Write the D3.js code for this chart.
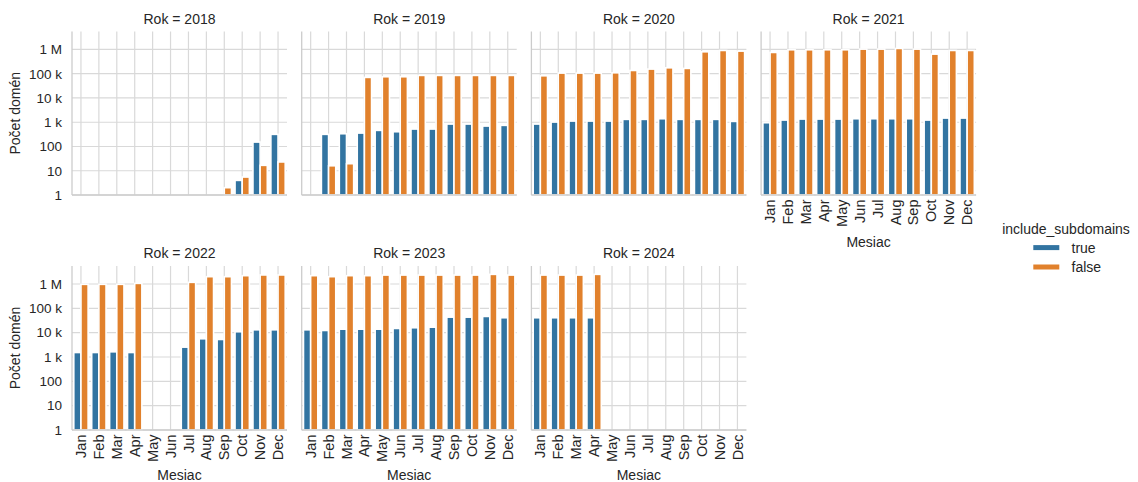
<!DOCTYPE html>
<html>
<head>
<meta charset="utf-8">
<script src="https://cdn.jsdelivr.net/npm/d3@7"></script>
<style>
  html, body { margin: 0; padding: 0; background: #fff; }
  svg { display: block; font-family: "Liberation Sans", Arial, sans-serif; }
</style>
</head>
<body>
<svg id="chart" width="1138" height="482"></svg>
<script>
// Months and years shown in the facet grid
const months = ["Jan","Feb","Mar","Apr","May","Jun","Jul","Aug","Sep","Oct","Nov","Dec"];
const years = [2018, 2019, 2020, 2021, 2022, 2023, 2024];
const seriesNames = ["true", "false"];

// Domain counts per month, include_subdomains = true (null = no data)
const trueCounts = {
  2018: [null,null,null,null,null,null,null,null,null,4,152,316],
  2019: [null,316,335,357,461,405,523,523,840,840,695,742],
  2020: [840,1015,1115,1115,1115,1310,1310,1390,1310,1310,1310,1080],
  2021: [953,1227,1349,1349,1349,1390,1390,1390,1390,1227,1483,1483],
  2022: [1528,1528,1632,1528,null,null,2540,5600,5250,10900,13100,13100],
  2023: [13100,12300,13900,13900,13900,14900,15900,16800,43400,43400,46400,41000],
  2024: [41000,41000,41000,41000,null,null,null,null,null,null,null,null]
};

// Domain counts per month, include_subdomains = false
const falseCounts = {
  2018: [null,null,null,null,null,null,null,null,2,5.5,16.7,23],
  2019: [null,16,19.5,70300,74800,74800,85000,85000,85000,85000,85000,85000],
  2020: [82000,106000,106000,106000,109000,136000,155000,175000,165000,800000,908000,853000],
  2021: [752000,968000,968000,968000,968000,1030000,1030000,1100000,1030000,641000,908000,908000],
  2022: [968000,968000,968000,1060000,null,null,1170000,2000000,2000000,2200000,2350000,2350000],
  2023: [2200000,2000000,2200000,2200000,2330000,2330000,2330000,2330000,2330000,2330000,2490000,2330000],
  2024: [2330000,2330000,2330000,2490000,null,null,null,null,null,null,null,null]
};

// Y tick values and their labels
const yTicks = [1, 10, 100, 1000, 10000, 100000, 1000000];
const yTickLabels = ["1", "10", "100", "1 k", "10 k", "100 k", "1 M"];

const colors = { "true": "#3274a1", "false": "#e1812c" };
const textColor = "#262626";
const gridColor = "#d9d9d9";
const fontFamily = "Liberation Sans, Arial, sans-serif";

const svg = d3.select("#chart");

const panelW = 215;
const colStep = 229.7;
const firstLeft = 72;
const rows = [
  { top: 31.5, bottom: 195 },
  { top: 266, bottom: 430 }
];
const ncol = 4;

const x = d3.scaleBand().domain(months).range([0, panelW]).paddingInner(0).paddingOuter(0);
const hue = d3.scaleBand().domain(seriesNames).range([0, x.bandwidth() * 0.8]);

years.forEach((year, i) => {
  const r = Math.floor(i / ncol), c = i % ncol;
  const left = firstLeft + c * colStep;
  const row = rows[r];
  const h = row.bottom - row.top;
  const y = d3.scaleLog().domain([1, Math.pow(10, 6.74)]).range([h, 0]);

  const g = svg.append("g").attr("transform", `translate(${left},${row.top})`);

  // horizontal grid
  g.append("g").selectAll("line").data(yTicks).join("line")
    .attr("x1", 0).attr("x2", panelW)
    .attr("y1", d => y(d)).attr("y2", d => y(d))
    .attr("stroke", gridColor).attr("stroke-width", 1.2);

  // vertical grid
  g.append("g").selectAll("line").data(months).join("line")
    .attr("x1", d => x(d) + x.bandwidth() / 2).attr("x2", d => x(d) + x.bandwidth() / 2)
    .attr("y1", 0).attr("y2", h)
    .attr("stroke", gridColor).attr("stroke-width", 1.2);

  // bars
  const rowsData = [];
  months.forEach((m, k) => {
    const tv = trueCounts[year][k], fv = falseCounts[year][k];
    if (tv != null) rowsData.push({ month: m, key: "true", value: tv });
    if (fv != null) rowsData.push({ month: m, key: "false", value: fv });
  });
  g.append("g").selectAll("rect").data(rowsData).join("rect")
    .attr("x", d => x(d.month) + x.bandwidth() * 0.1 + hue(d.key))
    .attr("width", hue.bandwidth())
    .attr("y", d => y(d.value))
    .attr("height", d => h - y(d.value))
    .attr("fill", d => colors[d.key])
    .attr("stroke", "#ffffff").attr("stroke-width", 1.6);

  // spines (left and bottom)
  g.append("line").attr("x1", 0).attr("x2", 0).attr("y1", 0).attr("y2", h)
    .attr("stroke", "#cccccc").attr("stroke-width", 1.3);
  g.append("line").attr("x1", 0).attr("x2", panelW).attr("y1", h).attr("y2", h)
    .attr("stroke", "#cccccc").attr("stroke-width", 1.3);

  // facet title
  g.append("text").attr("x", panelW / 2).attr("y", -8)
    .attr("text-anchor", "middle").attr("fill", textColor).attr("font-size", 14)
    .text(`Rok = ${year}`);

  // y axis labels on the first column
  if (c === 0) {
    const yAxis = d3.axisLeft(y).tickValues(yTicks)
      .tickFormat((d, j) => yTickLabels[j]).tickSize(0).tickPadding(10);
    const ax = g.append("g").call(yAxis);
    ax.select(".domain").remove();
    ax.selectAll("text").attr("fill", textColor).attr("font-size", 13.5)
      .attr("font-family", fontFamily);
    g.append("text")
      .attr("transform", `translate(${-57},${h / 2}) rotate(-90)`)
      .attr("text-anchor", "middle").attr("dy", "0.35em")
      .attr("fill", textColor).attr("font-size", 14)
      .text("Počet domén");
  }

  // x axis labels on panels with no panel below
  const hasBelow = (i + ncol) < years.length;
  if (!hasBelow) {
    const xAxis = d3.axisBottom(x).tickSize(0).tickPadding(0);
    const ax = g.append("g").attr("transform", `translate(0,${h})`).call(xAxis);
    ax.select(".domain").remove();
    ax.selectAll("text")
      .attr("fill", textColor).attr("font-size", 14.5)
      .attr("font-family", fontFamily)
      .attr("text-anchor", "end")
      .attr("transform", "rotate(-90)")
      .attr("x", -4.5).attr("y", 0).attr("dy", "0.35em");
    g.append("text").attr("x", panelW / 2).attr("y", r === 0 ? h + 51.5 : h + 49.5)
      .attr("text-anchor", "middle").attr("fill", textColor).attr("font-size", 14)
      .text("Mesiac");
  }
});

// legend
const lg = svg.append("g");
lg.append("text").attr("x", 1066).attr("y", 229).attr("dy", "0.35em")
  .attr("text-anchor", "middle").attr("fill", textColor).attr("font-size", 14)
  .text("include_subdomains");
seriesNames.forEach((s, k) => {
  const cy = 247.6 + k * 19.4;
  lg.append("rect").attr("x", 1033.3).attr("y", cy - 2.5).attr("width", 26).attr("height", 5)
    .attr("fill", colors[s]);
  lg.append("text").attr("x", 1071.5).attr("y", cy).attr("dy", "0.35em")
    .attr("fill", textColor).attr("font-size", 14).text(s);
});
</script>
</body>
</html>
